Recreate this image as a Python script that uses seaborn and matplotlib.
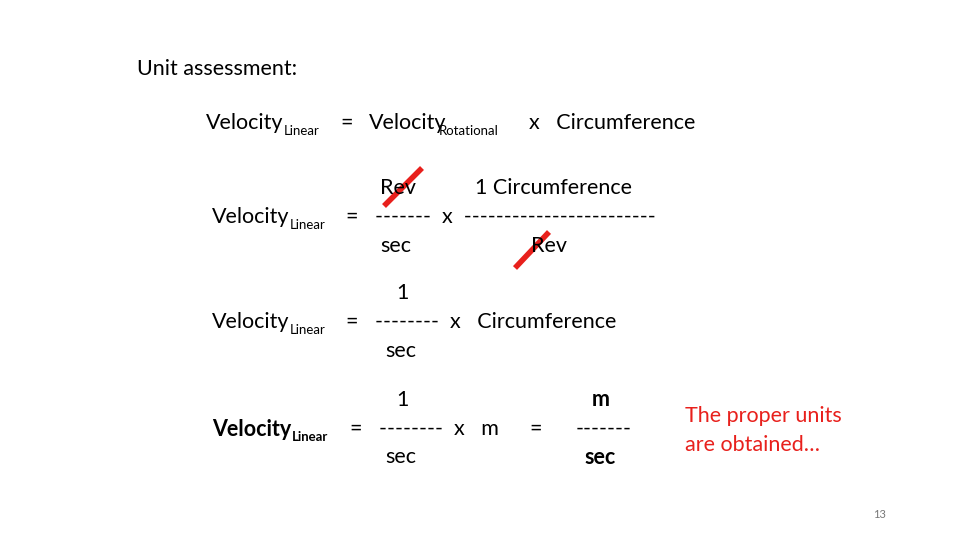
import matplotlib
matplotlib.use("Agg")
import matplotlib.pyplot as plt
import seaborn as sns

sns.set_theme(style="white")
plt.rcParams['font.family'] = ['Lato', 'DejaVu Sans']

W, H = 960, 540

# slide text: (x_px, y_px, text, size)
title = "Unit assessment:"
plain_rows = [
    (206, 123, "Velocity", 15.5),
    (369, 123, "Velocity", 15.5),
    (529, 123, "x   Circumference", 15.5),
    (340, 123, "=", 15.5),
    (380, 188, "Rev", 15.5),
    (475, 188, "1 Circumference", 15.5),
    (212, 217, "Velocity", 15.5),
    (346, 217, "=   -------  x  ------------------------", 15.5),
    (380, 246, "sec", 15.5),
    (531, 246, "Rev", 15.5),
    (396, 293, "1", 15.5),
    (212, 322, "Velocity", 15.5),
    (346, 322, "=   --------  x   Circumference", 15.5),
    (385, 351, "sec", 15.5),
    (396, 400, "1", 15.5),
    (350, 429, "=   --------  x   m", 15.5),
    (529, 429, "=", 15.5),
    (385, 457, "sec", 15.5),
    (576, 429, "-------", 15.5),
]
subs = [
    (284, 131, "Linear"),
    (439, 131, "Rotational"),
    (290, 225, "Linear"),
    (290, 330, "Linear"),
]
bold_rows = [
    (212, 429, "Velocity", 15.5),
    (592, 400, "m", 15.5),
    (584, 457, "sec", 15.5),
]
note = ["The proper units", "are obtained…"]
page = "13"
strikes = [((384, 206), (422, 168)), ((515, 268), (549, 232))]

fig = plt.figure(figsize=(9.6, 5.4), dpi=100)
ax = fig.add_axes([0, 0, 1, 1])
ax.set_xlim(0, W)
ax.set_ylim(H, 0)
ax.axis("off")

ax.text(137, 69, title, fontsize=15.5, va="center", color="black")
for x, y, t, s in plain_rows:
    ax.text(x, y, t, fontsize=s, va="center", color="black")
for x, y, t in subs:
    ax.text(x, y, t, fontsize=9.5, va="center", color="black")
for x, y, t, s in bold_rows:
    ax.text(x, y, t, fontsize=s, va="center", weight="bold", color="black")
ax.text(292, 437, "Linear", fontsize=9.5, va="center", weight="bold", color="black")
ax.text(685, 416, note[0], fontsize=15.5, va="center", color="#e8201c")
ax.text(685, 445, note[1], fontsize=15.5, va="center", color="#e8201c")
ax.text(880, 515, page, fontsize=8, va="center", ha="center", color="#777777")
for (x0, y0), (x1, y1) in strikes:
    ax.plot([x0, x1], [y0, y1], color="#e8201c", lw=4, solid_capstyle="butt")

fig.savefig("out.png", dpi=100)
